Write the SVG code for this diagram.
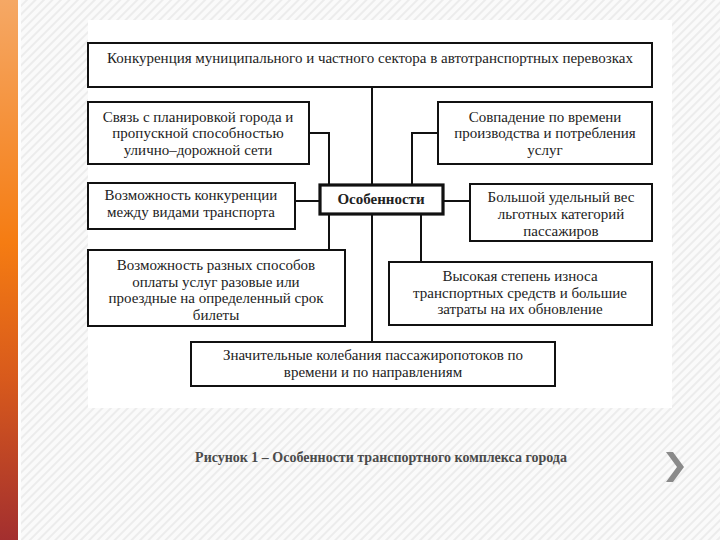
<svg xmlns="http://www.w3.org/2000/svg" width="720" height="540" viewBox="0 0 720 540">
<defs>
<linearGradient id="bar" x1="0" y1="0" x2="0" y2="1">
<stop offset="0" stop-color="#f5a865"/>
<stop offset="0.45" stop-color="#f57c12"/>
<stop offset="0.7" stop-color="#d85a1c"/>
<stop offset="1" stop-color="#a32f2f"/>
</linearGradient>
<pattern id="hatch" width="6" height="6" patternUnits="userSpaceOnUse" patternTransform="rotate(-45)">
<rect width="6" height="6" fill="#fafafa"/>
<rect width="6" height="2" fill="#ececec"/>
</pattern>
</defs>
<style>
.box{fill:#fff;stroke:#111;stroke-width:2}
.main{fill:#fff;stroke:#111;stroke-width:3.2}
.t{font-family:"Liberation Serif","Times New Roman",serif;font-size:15px;fill:#222;text-anchor:middle}
.b{font-weight:bold}
.con{stroke:#111;stroke-width:2;fill:none}
.cap{font-family:"Liberation Serif","Times New Roman",serif;font-size:14px;font-weight:bold;fill:#4a4a4a;text-anchor:middle}
</style>
<rect width="720" height="540" fill="url(#hatch)"/>
<rect x="0" y="0" width="18" height="540" fill="url(#bar)"/>
<rect x="18" y="0" width="3" height="540" fill="#fdfdfd"/>
<rect x="88" y="20" width="584" height="388" fill="#fff"/>

<g id="connectors">
<line class="con" x1="372" y1="87" x2="372" y2="342"/>
<polyline class="con" points="309,133 329,133 329,186"/>
<polyline class="con" points="438,133 412,133 412,186"/>
<line class="con" x1="295" y1="201" x2="320" y2="201"/>
<line class="con" x1="443" y1="201" x2="470" y2="201"/>
<line class="con" x1="329" y1="214" x2="329" y2="250"/>
<line class="con" x1="421" y1="214" x2="421" y2="262"/>
</g>

<g id="n-top">
<rect class="box" x="88" y="43" width="564" height="44"/>
<text class="t" x="370" y="63">Конкуренция муниципального и частного сектора в автотранспортных перевозках</text>
</g>
<g id="n-left1">
<rect class="box" x="88" y="102" width="221" height="62"/>
<text class="t" x="198" y="122">Связь с планировкой города и</text>
<text class="t" x="198" y="138">пропускной способностью</text>
<text class="t" x="198" y="155">улично–дорожной сети</text>
</g>
<g id="n-right1">
<rect class="box" x="438" y="102" width="214" height="62"/>
<text class="t" x="545" y="122">Совпадение по времени</text>
<text class="t" x="545" y="138">производства и потребления</text>
<text class="t" x="545" y="155">услуг</text>
</g>
<g id="n-center">
<rect class="main" x="320" y="185" width="123" height="29"/>
<text class="t b" x="381" y="204">Особенности</text>
</g>
<g id="n-left2">
<rect class="box" x="88" y="183" width="207" height="46"/>
<text class="t" x="191" y="200">Возможность конкуренции</text>
<text class="t" x="191" y="217">между видами транспорта</text>
</g>
<g id="n-right2">
<rect class="box" x="470" y="184" width="182" height="57"/>
<text class="t" x="561" y="202">Большой удельный вес</text>
<text class="t" x="561" y="219">льготных категорий</text>
<text class="t" x="561" y="236">пассажиров</text>
</g>
<g id="n-left3">
<rect class="box" x="88" y="250" width="257" height="76"/>
<text class="t" x="216" y="270">Возможность разных способов</text>
<text class="t" x="216" y="287">оплаты услуг разовые или</text>
<text class="t" x="216" y="303">проездные на определенный срок</text>
<text class="t" x="216" y="320">билеты</text>
</g>
<g id="n-right3">
<rect class="box" x="389" y="262" width="263" height="63"/>
<text class="t" x="520" y="281">Высокая степень износа</text>
<text class="t" x="520" y="298">транспортных средств и большие</text>
<text class="t" x="520" y="314">затраты на их обновление</text>
</g>
<g id="n-bottom">
<rect class="box" x="191" y="342" width="364" height="44"/>
<text class="t" x="373" y="360">Значительные колебания пассажиропотоков по</text>
<text class="t" x="373" y="377">времени и по направлениям</text>
</g>

<text class="cap" x="381" y="462">Рисунок 1 – Особенности транспортного комплекса города</text>
<polygon points="666,452 673,452 684,467 673,482 666,482 677,467" fill="#8a8a8a"/>
</svg>
